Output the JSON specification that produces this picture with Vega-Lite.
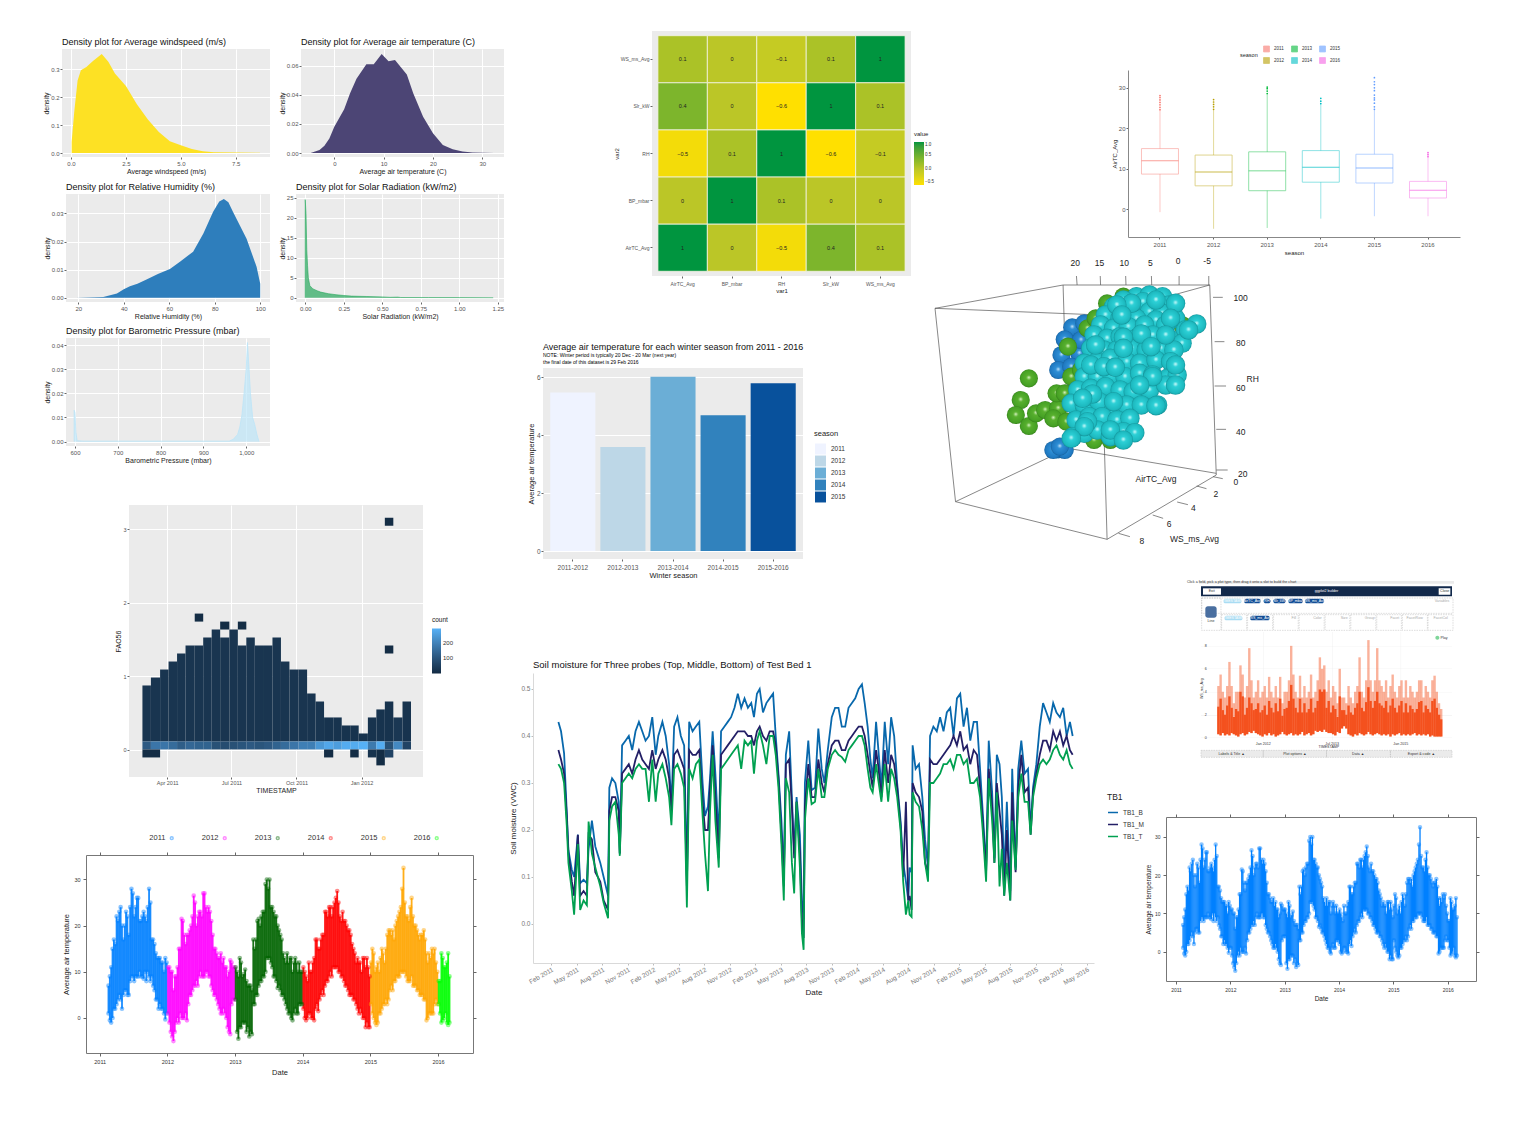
{"$schema":"https://vega.github.io/schema/vega-lite/v6.json","padding":{"left":42,"top":0,"right":0,"bottom":0},"background":"white","spacing":5,"resolve":{"scale":{"color":"independent"},"legend":{"color":"independent"}},"config":{"font":"Liberation Sans","view":{"stroke":null},"axis":{"gridColor":"#ffffff","tickColor":"#666666","tickSize":2,"domain":false,"labelFontSize":6,"labelColor":"#555555","titleFontSize":7,"titleColor":"#222222","titleFontWeight":"normal","labelPadding":1,"titlePadding":1,"labelOverlap":false},"title":{"fontSize":9,"fontWeight":"normal","anchor":"start","frame":"group","offset":2,"color":"#111111"},"legend":{"labelFontSize":6,"titleFontSize":6.5,"titleFontWeight":"normal","labelColor":"#333333","titleColor":"#222222"}},"datasets":{"temp":[
{"t":2011.13,"s":2011,"lo":1,"hi":7},{"t":2011.15,"s":2011,"lo":-0.5,"hi":9},{"t":2011.17,"s":2011,"lo":-1,"hi":11},{"t":2011.19,"s":2011,"lo":0,"hi":15},{"t":2011.21,"s":2011,"lo":2,"hi":17},{"t":2011.23,"s":2011,"lo":2,"hi":16},{"t":2011.25,"s":2011,"lo":3,"hi":22},{"t":2011.27,"s":2011,"lo":4,"hi":21},{"t":2011.29,"s":2011,"lo":5,"hi":23},{"t":2011.31,"s":2011,"lo":4,"hi":24},{"t":2011.33,"s":2011,"lo":2,"hi":20},{"t":2011.35,"s":2011,"lo":5,"hi":17},{"t":2011.37,"s":2011,"lo":6,"hi":20},{"t":2011.39,"s":2011,"lo":6,"hi":23},{"t":2011.41,"s":2011,"lo":5,"hi":22},{"t":2011.43,"s":2011,"lo":5,"hi":18},{"t":2011.45,"s":2011,"lo":8,"hi":24},{"t":2011.47,"s":2011,"lo":9,"hi":28},{"t":2011.49,"s":2011,"lo":9,"hi":27},{"t":2011.51,"s":2011,"lo":8,"hi":22},{"t":2011.53,"s":2011,"lo":9,"hi":24},{"t":2011.55,"s":2011,"lo":9,"hi":26},{"t":2011.57,"s":2011,"lo":9,"hi":26},{"t":2011.59,"s":2011,"lo":10,"hi":21},{"t":2011.61,"s":2011,"lo":9,"hi":21},{"t":2011.63,"s":2011,"lo":9,"hi":22},{"t":2011.65,"s":2011,"lo":8.5,"hi":23},{"t":2011.67,"s":2011,"lo":10,"hi":22},{"t":2011.69,"s":2011,"lo":8,"hi":21},{"t":2011.71,"s":2011,"lo":10,"hi":24},{"t":2011.73,"s":2011,"lo":9,"hi":28},{"t":2011.75,"s":2011,"lo":8,"hi":25},{"t":2011.77,"s":2011,"lo":9,"hi":17},{"t":2011.79,"s":2011,"lo":7,"hi":17},{"t":2011.81,"s":2011,"lo":6,"hi":16},{"t":2011.83,"s":2011,"lo":4,"hi":14},{"t":2011.85,"s":2011,"lo":4,"hi":13},{"t":2011.87,"s":2011,"lo":2,"hi":13},{"t":2011.89,"s":2011,"lo":3,"hi":13},{"t":2011.91,"s":2011,"lo":2,"hi":12},{"t":2011.93,"s":2011,"lo":2,"hi":12},{"t":2011.95,"s":2011,"lo":1,"hi":10},{"t":2011.97,"s":2011,"lo":-0.3,"hi":13},{"t":2011.99,"s":2011,"lo":1,"hi":12},
{"t":2012.01,"s":2012,"lo":1,"hi":11},{"t":2012.03,"s":2012,"lo":-1,"hi":11},{"t":2012.05,"s":2012,"lo":-3,"hi":10},{"t":2012.07,"s":2012,"lo":-4,"hi":10},{"t":2012.09,"s":2012,"lo":-5,"hi":6},{"t":2012.11,"s":2012,"lo":-3,"hi":9},{"t":2012.13,"s":2012,"lo":-1,"hi":9},{"t":2012.15,"s":2012,"lo":0,"hi":11},{"t":2012.17,"s":2012,"lo":-1,"hi":15},{"t":2012.19,"s":2012,"lo":1,"hi":15},{"t":2012.21,"s":2012,"lo":0,"hi":21.5},{"t":2012.23,"s":2012,"lo":0,"hi":21},{"t":2012.25,"s":2012,"lo":0,"hi":18},{"t":2012.27,"s":2012,"lo":1,"hi":16},{"t":2012.29,"s":2012,"lo":-0.5,"hi":18},{"t":2012.31,"s":2012,"lo":3,"hi":18},{"t":2012.33,"s":2012,"lo":5,"hi":19},{"t":2012.35,"s":2012,"lo":5,"hi":20},{"t":2012.37,"s":2012,"lo":6,"hi":22},{"t":2012.39,"s":2012,"lo":7,"hi":26.5},{"t":2012.41,"s":2012,"lo":7,"hi":25},{"t":2012.43,"s":2012,"lo":8,"hi":20},{"t":2012.45,"s":2012,"lo":7,"hi":22},{"t":2012.47,"s":2012,"lo":9,"hi":23},{"t":2012.49,"s":2012,"lo":10,"hi":23},{"t":2012.51,"s":2012,"lo":9,"hi":22},{"t":2012.53,"s":2012,"lo":9,"hi":27},{"t":2012.55,"s":2012,"lo":9,"hi":27},{"t":2012.57,"s":2012,"lo":10,"hi":24},{"t":2012.59,"s":2012,"lo":10,"hi":23},{"t":2012.61,"s":2012,"lo":9,"hi":24},{"t":2012.63,"s":2012,"lo":9,"hi":23},{"t":2012.65,"s":2012,"lo":7,"hi":21},{"t":2012.67,"s":2012,"lo":6,"hi":18},{"t":2012.69,"s":2012,"lo":5,"hi":15},{"t":2012.71,"s":2012,"lo":5,"hi":15},{"t":2012.73,"s":2012,"lo":4,"hi":14},{"t":2012.75,"s":2012,"lo":3,"hi":13},{"t":2012.77,"s":2012,"lo":2,"hi":13},{"t":2012.79,"s":2012,"lo":1,"hi":14},{"t":2012.81,"s":2012,"lo":1,"hi":12},{"t":2012.83,"s":2012,"lo":2,"hi":13},{"t":2012.85,"s":2012,"lo":1,"hi":11},{"t":2012.87,"s":2012,"lo":0,"hi":11},{"t":2012.89,"s":2012,"lo":-2,"hi":9},{"t":2012.91,"s":2012,"lo":-3,"hi":10},{"t":2012.93,"s":2012,"lo":-3.5,"hi":12.5},{"t":2012.95,"s":2012,"lo":3,"hi":12},{"t":2012.97,"s":2012,"lo":4,"hi":11},{"t":2012.99,"s":2012,"lo":4,"hi":11},
{"t":2013.01,"s":2013,"lo":4,"hi":11},{"t":2013.03,"s":2013,"lo":-3,"hi":10},{"t":2013.05,"s":2013,"lo":-4.5,"hi":9},{"t":2013.07,"s":2013,"lo":-2,"hi":13},{"t":2013.09,"s":2013,"lo":-2,"hi":12},{"t":2013.11,"s":2013,"lo":-1,"hi":9},{"t":2013.13,"s":2013,"lo":-1,"hi":9.5},{"t":2013.15,"s":2013,"lo":-1,"hi":10.5},{"t":2013.17,"s":2013,"lo":-3,"hi":8},{"t":2013.19,"s":2013,"lo":-2,"hi":7},{"t":2013.21,"s":2013,"lo":-4,"hi":7},{"t":2013.23,"s":2013,"lo":-3,"hi":7},{"t":2013.25,"s":2013,"lo":-3.5,"hi":6},{"t":2013.27,"s":2013,"lo":3,"hi":17},{"t":2013.29,"s":2013,"lo":3,"hi":15},{"t":2013.31,"s":2013,"lo":5,"hi":17},{"t":2013.33,"s":2013,"lo":5,"hi":21},{"t":2013.35,"s":2013,"lo":7,"hi":21.5},{"t":2013.37,"s":2013,"lo":8,"hi":20},{"t":2013.39,"s":2013,"lo":8,"hi":22},{"t":2013.41,"s":2013,"lo":9,"hi":23},{"t":2013.43,"s":2013,"lo":9,"hi":23},{"t":2013.45,"s":2013,"lo":10,"hi":29},{"t":2013.47,"s":2013,"lo":13,"hi":30},{"t":2013.49,"s":2013,"lo":13,"hi":28},{"t":2013.51,"s":2013,"lo":13,"hi":30},{"t":2013.53,"s":2013,"lo":12,"hi":24},{"t":2013.55,"s":2013,"lo":11,"hi":24},{"t":2013.57,"s":2013,"lo":9,"hi":23},{"t":2013.59,"s":2013,"lo":9,"hi":22},{"t":2013.61,"s":2013,"lo":8,"hi":22},{"t":2013.63,"s":2013,"lo":6.5,"hi":20},{"t":2013.65,"s":2013,"lo":7,"hi":19},{"t":2013.67,"s":2013,"lo":6,"hi":18},{"t":2013.69,"s":2013,"lo":5,"hi":17},{"t":2013.71,"s":2013,"lo":5,"hi":14},{"t":2013.73,"s":2013,"lo":4,"hi":13},{"t":2013.75,"s":2013,"lo":3,"hi":12},{"t":2013.77,"s":2013,"lo":2,"hi":14},{"t":2013.79,"s":2013,"lo":1,"hi":12},{"t":2013.81,"s":2013,"lo":1,"hi":13},{"t":2013.83,"s":2013,"lo":0,"hi":13},{"t":2013.85,"s":2013,"lo":-0.5,"hi":10},{"t":2013.87,"s":2013,"lo":1,"hi":12},{"t":2013.89,"s":2013,"lo":2,"hi":13},{"t":2013.91,"s":2013,"lo":1,"hi":12},{"t":2013.93,"s":2013,"lo":1,"hi":10},{"t":2013.95,"s":2013,"lo":3,"hi":12},{"t":2013.97,"s":2013,"lo":3,"hi":10},{"t":2013.99,"s":2013,"lo":3,"hi":10},
{"t":2014.01,"s":2014,"lo":2,"hi":11},{"t":2014.03,"s":2014,"lo":0,"hi":10},{"t":2014.05,"s":2014,"lo":-0.5,"hi":9},{"t":2014.07,"s":2014,"lo":0,"hi":8},{"t":2014.09,"s":2014,"lo":1,"hi":12},{"t":2014.11,"s":2014,"lo":1,"hi":10},{"t":2014.13,"s":2014,"lo":0,"hi":10},{"t":2014.15,"s":2014,"lo":0,"hi":12},{"t":2014.17,"s":2014,"lo":-0.5,"hi":13},{"t":2014.19,"s":2014,"lo":2,"hi":17},{"t":2014.21,"s":2014,"lo":3,"hi":17},{"t":2014.23,"s":2014,"lo":1.5,"hi":15},{"t":2014.25,"s":2014,"lo":4,"hi":15},{"t":2014.27,"s":2014,"lo":5,"hi":17},{"t":2014.29,"s":2014,"lo":6,"hi":18},{"t":2014.31,"s":2014,"lo":5,"hi":18},{"t":2014.33,"s":2014,"lo":7,"hi":23},{"t":2014.35,"s":2014,"lo":8,"hi":23},{"t":2014.37,"s":2014,"lo":8,"hi":22},{"t":2014.39,"s":2014,"lo":9,"hi":24},{"t":2014.41,"s":2014,"lo":10,"hi":24},{"t":2014.43,"s":2014,"lo":9,"hi":22},{"t":2014.45,"s":2014,"lo":11,"hi":24},{"t":2014.47,"s":2014,"lo":11,"hi":25},{"t":2014.49,"s":2014,"lo":11,"hi":26},{"t":2014.51,"s":2014,"lo":11,"hi":27.5},{"t":2014.53,"s":2014,"lo":10,"hi":25},{"t":2014.55,"s":2014,"lo":10,"hi":22},{"t":2014.57,"s":2014,"lo":9,"hi":21},{"t":2014.59,"s":2014,"lo":9,"hi":23},{"t":2014.61,"s":2014,"lo":8,"hi":21},{"t":2014.63,"s":2014,"lo":7,"hi":21},{"t":2014.65,"s":2014,"lo":7,"hi":20},{"t":2014.67,"s":2014,"lo":6,"hi":19},{"t":2014.69,"s":2014,"lo":5,"hi":19},{"t":2014.71,"s":2014,"lo":5,"hi":18},{"t":2014.73,"s":2014,"lo":5,"hi":16},{"t":2014.75,"s":2014,"lo":4,"hi":15},{"t":2014.77,"s":2014,"lo":4,"hi":14},{"t":2014.79,"s":2014,"lo":3,"hi":12},{"t":2014.81,"s":2014,"lo":2,"hi":13},{"t":2014.83,"s":2014,"lo":1,"hi":12},{"t":2014.85,"s":2014,"lo":2,"hi":12},{"t":2014.87,"s":2014,"lo":1,"hi":10},{"t":2014.89,"s":2014,"lo":0,"hi":13},{"t":2014.91,"s":2014,"lo":0,"hi":13},{"t":2014.93,"s":2014,"lo":-2,"hi":11},{"t":2014.95,"s":2014,"lo":-1,"hi":13},{"t":2014.97,"s":2014,"lo":-2,"hi":11},{"t":2014.99,"s":2014,"lo":-2,"hi":9},
{"t":2015.01,"s":2015,"lo":3,"hi":12},{"t":2015.03,"s":2015,"lo":1,"hi":15},{"t":2015.05,"s":2015,"lo":0,"hi":14},{"t":2015.07,"s":2015,"lo":-1,"hi":10},{"t":2015.09,"s":2015,"lo":-1.5,"hi":11},{"t":2015.11,"s":2015,"lo":-1,"hi":12},{"t":2015.13,"s":2015,"lo":1,"hi":10},{"t":2015.15,"s":2015,"lo":1,"hi":13},{"t":2015.17,"s":2015,"lo":2,"hi":15},{"t":2015.19,"s":2015,"lo":3,"hi":14},{"t":2015.21,"s":2015,"lo":3,"hi":12},{"t":2015.23,"s":2015,"lo":4,"hi":15},{"t":2015.25,"s":2015,"lo":3,"hi":18},{"t":2015.27,"s":2015,"lo":4,"hi":19},{"t":2015.29,"s":2015,"lo":6,"hi":19},{"t":2015.31,"s":2015,"lo":7,"hi":18},{"t":2015.33,"s":2015,"lo":6,"hi":19},{"t":2015.35,"s":2015,"lo":8,"hi":17},{"t":2015.37,"s":2015,"lo":8,"hi":20},{"t":2015.39,"s":2015,"lo":9,"hi":21},{"t":2015.41,"s":2015,"lo":9,"hi":22},{"t":2015.43,"s":2015,"lo":9,"hi":23},{"t":2015.45,"s":2015,"lo":10,"hi":24},{"t":2015.47,"s":2015,"lo":10,"hi":28},{"t":2015.49,"s":2015,"lo":10,"hi":32.5},{"t":2015.51,"s":2015,"lo":10,"hi":25},{"t":2015.53,"s":2015,"lo":9,"hi":22},{"t":2015.55,"s":2015,"lo":8,"hi":22},{"t":2015.57,"s":2015,"lo":8,"hi":21},{"t":2015.59,"s":2015,"lo":8,"hi":24},{"t":2015.61,"s":2015,"lo":9,"hi":26},{"t":2015.63,"s":2015,"lo":7,"hi":22},{"t":2015.65,"s":2015,"lo":7,"hi":20},{"t":2015.67,"s":2015,"lo":7,"hi":20},{"t":2015.69,"s":2015,"lo":6,"hi":19},{"t":2015.71,"s":2015,"lo":6,"hi":18},{"t":2015.73,"s":2015,"lo":5,"hi":17},{"t":2015.75,"s":2015,"lo":5,"hi":18},{"t":2015.77,"s":2015,"lo":5,"hi":18},{"t":2015.79,"s":2015,"lo":4,"hi":19},{"t":2015.81,"s":2015,"lo":4,"hi":17},{"t":2015.83,"s":2015,"lo":-0.5,"hi":14},{"t":2015.85,"s":2015,"lo":0,"hi":12},{"t":2015.87,"s":2015,"lo":1,"hi":14},{"t":2015.89,"s":2015,"lo":1,"hi":13},{"t":2015.91,"s":2015,"lo":1,"hi":15},{"t":2015.93,"s":2015,"lo":1,"hi":14},{"t":2015.95,"s":2015,"lo":3,"hi":15},{"t":2015.97,"s":2015,"lo":4,"hi":12},{"t":2015.99,"s":2015,"lo":3,"hi":10},
{"t":2016.01,"s":2016,"lo":3,"hi":8},{"t":2016.03,"s":2016,"lo":1,"hi":8},{"t":2016.05,"s":2016,"lo":-1,"hi":14},{"t":2016.07,"s":2016,"lo":-0.5,"hi":13},{"t":2016.09,"s":2016,"lo":0,"hi":11},{"t":2016.11,"s":2016,"lo":1,"hi":11},{"t":2016.13,"s":2016,"lo":-1,"hi":12},{"t":2016.15,"s":2016,"lo":-1.5,"hi":14},{"t":2016.17,"s":2016,"lo":-1,"hi":9}
]},"hconcat":[
{"spacing":0,"resolve":{"scale":{"color":"independent"},"legend":{"color":"independent"}},"vconcat":[
{"width":1,"height":38,"data":{"values":[]},"mark":"point","encoding":{}},
{"bounds":"flush","spacing":0,"hconcat":[
{"width":208,"height":108,"title":"Density plot for Average windspeed (m/s)","view":{"fill":"#EBEBEB"},"data":{"values":[{"x":0.03,"y":0},{"x":0.03,"y":0.04},{"x":0.15,"y":0.15},{"x":0.3,"y":0.26},{"x":0.45,"y":0.297},{"x":0.7,"y":0.308},{"x":1,"y":0.33},{"x":1.4,"y":0.355},{"x":1.7,"y":0.327},{"x":2,"y":0.285},{"x":2.5,"y":0.24},{"x":3,"y":0.175},{"x":3.5,"y":0.12},{"x":4,"y":0.075},{"x":4.5,"y":0.042},{"x":5,"y":0.028},{"x":5.5,"y":0.014},{"x":6,"y":0.006},{"x":6.5,"y":0.003},{"x":7.5,"y":0.002},{"x":8.6,"y":0.0005}]},"mark":{"type":"area","color":"#FDE124"},"encoding":{"x":{"field":"x","type":"quantitative","title":"Average windspeed (m/s)","scale":{"domain":[-0.41,9.06],"nice":false,"zero":false},"axis":{"values":[0,2.5,5,7.5],"format":".1f"}},"y":{"field":"y","type":"quantitative","title":"density","scale":{"domain":[-0.0143,0.3727],"nice":false,"zero":false},"axis":{"values":[0,0.1,0.2,0.3],"format":".1f"}}}},
{"width":31,"height":1,"data":{"values":[]},"mark":"point","encoding":{}},
{"width":203,"height":108,"title":"Density plot for Average air temperature (C)","view":{"fill":"#EBEBEB"},"data":{"values":[{"x":-4.8,"y":0},{"x":-3,"y":0.002},{"x":-2,"y":0.005},{"x":-1,"y":0.01},{"x":0,"y":0.018},{"x":1,"y":0.024},{"x":2,"y":0.03},{"x":3.2,"y":0.041},{"x":4.5,"y":0.051},{"x":6.5,"y":0.061},{"x":8,"y":0.061},{"x":9.6,"y":0.068},{"x":11,"y":0.063},{"x":12.3,"y":0.064},{"x":14.7,"y":0.054},{"x":16,"y":0.041},{"x":18,"y":0.025},{"x":20,"y":0.0135},{"x":22,"y":0.0055},{"x":24,"y":0.0025},{"x":26,"y":0.001},{"x":28,"y":0.0004},{"x":32.5,"y":0}]},"mark":{"type":"area","color":"#4C4575"},"encoding":{"x":{"field":"x","type":"quantitative","title":"Average air temperature (C)","scale":{"domain":[-6.75,34.4],"nice":false,"zero":false},"axis":{"values":[0,10,20,30]}},"y":{"field":"y","type":"quantitative","title":"density","scale":{"domain":[-0.00275,0.0715],"nice":false,"zero":false},"axis":{"values":[0,0.02,0.04,0.06],"format":".2f"}}}}]},
{"width":1,"height":9,"data":{"values":[]},"mark":"point","encoding":{}},
{"bounds":"flush","spacing":0,"hconcat":[
{"width":4,"height":1,"data":{"values":[]},"mark":"point","encoding":{}},
{"width":204,"height":108,"title":"Density plot for Relative Humidity (%)","view":{"fill":"#EBEBEB"},"data":{"values":[{"x":19,"y":0},{"x":31,"y":0.0003},{"x":37,"y":0.0015},{"x":40,"y":0.003},{"x":42.7,"y":0.0041},{"x":46,"y":0.005},{"x":50,"y":0.0065},{"x":55,"y":0.0085},{"x":60.3,"y":0.0102},{"x":65,"y":0.013},{"x":70.5,"y":0.0164},{"x":75,"y":0.0229},{"x":79.3,"y":0.0306},{"x":82,"y":0.0342},{"x":84,"y":0.0351},{"x":86,"y":0.034},{"x":88,"y":0.0306},{"x":94,"y":0.021},{"x":98.4,"y":0.011},{"x":100,"y":0.005},{"x":100,"y":0}]},"mark":{"type":"area","color":"#2E7EBC"},"encoding":{"x":{"field":"x","type":"quantitative","title":"Relative Humidity (%)","scale":{"domain":[14.6,104.3],"nice":false,"zero":false},"axis":{"values":[20,40,60,80,100]}},"y":{"field":"y","type":"quantitative","title":"density","scale":{"domain":[-0.0015,0.0369],"nice":false,"zero":false},"axis":{"values":[0,0.01,0.02,0.03],"format":".2f"}}}},
{"width":26,"height":1,"data":{"values":[]},"mark":"point","encoding":{}},
{"width":208,"height":108,"title":"Density plot for Solar Radiation (kW/m2)","view":{"fill":"#EBEBEB"},"data":{"values":[{"x":0,"y":0},{"x":0,"y":24.5},{"x":0.005,"y":21},{"x":0.01,"y":12},{"x":0.015,"y":8},{"x":0.02,"y":5},{"x":0.03,"y":3},{"x":0.05,"y":2.2},{"x":0.08,"y":1.7},{"x":0.1,"y":1.4},{"x":0.15,"y":1},{"x":0.2,"y":0.75},{"x":0.25,"y":0.55},{"x":0.3,"y":0.4},{"x":0.4,"y":0.3},{"x":0.5,"y":0.2},{"x":0.55,"y":0.1},{"x":0.6,"y":0.15},{"x":0.62,"y":0.05},{"x":0.8,"y":0.04},{"x":1,"y":0.03},{"x":1.22,"y":0}]},"mark":{"type":"area","color":"#27A85C","line":{"color":"#27A85C","strokeWidth":0.6}},"encoding":{"x":{"field":"x","type":"quantitative","title":"Solar Radiation (kW/m2)","scale":{"domain":[-0.06,1.29],"nice":false,"zero":false},"axis":{"values":[0,0.25,0.5,0.75,1,1.25],"format":".2f"}},"y":{"field":"y","type":"quantitative","title":"density","scale":{"domain":[-1.07,25.9],"nice":false,"zero":false},"axis":{"values":[0,5,10,15,20,25]}}}}]},
{"width":1,"height":8,"data":{"values":[]},"mark":"point","encoding":{}},
{"bounds":"flush","spacing":0,"hconcat":[
{"width":4,"height":1,"data":{"values":[]},"mark":"point","encoding":{}},
{"width":204,"height":108,"title":"Density plot for Barometric Pressure (mbar)","view":{"fill":"#EBEBEB"},"data":{"values":[{"x":598,"y":0},{"x":598,"y":0.013},{"x":600,"y":0.012},{"x":602,"y":0.004},{"x":605,"y":0.0004},{"x":620,"y":0.0002},{"x":960,"y":0.0002},{"x":970,"y":0.001},{"x":980,"y":0.003},{"x":985,"y":0.006},{"x":990,"y":0.011},{"x":995,"y":0.02},{"x":1000,"y":0.03},{"x":1003,"y":0.041},{"x":1006,"y":0.032},{"x":1010,"y":0.02},{"x":1015,"y":0.01},{"x":1020,"y":0.007},{"x":1025,"y":0.003},{"x":1030,"y":0}]},"mark":{"type":"area","color":"#BDE5F8","line":{"color":"#BDE5F8","strokeWidth":0.8}},"encoding":{"x":{"field":"x","type":"quantitative","title":"Barometric Pressure (mbar)","scale":{"domain":[579,1055.6],"nice":false,"zero":false},"axis":{"values":[600,700,800,900,1000]}},"y":{"field":"y","type":"quantitative","title":"density","scale":{"domain":[-0.0018,0.0429],"nice":false,"zero":false},"axis":{"values":[0,0.01,0.02,0.03,0.04],"format":".2f"}}}}]},
{"width":1,"height":42,"data":{"values":[]},"mark":"point","encoding":{}},
{"bounds":"flush","spacing":0,"resolve":{"scale":{"color":"independent"},"legend":{"color":"independent"}},"hconcat":[
{"width":67,"height":1,"data":{"values":[]},"mark":"point","encoding":{}},
{"width":294,"height":272,"view":{"fill":"#EBEBEB"},"data":{"values":[
{"d":"2011-02-25","d2":"2011-03-09","lo":0.114,"hi":0.875,"n":25},{"d":"2011-03-09","d2":"2011-03-22","lo":0.114,"hi":0.983,"n":25},{"d":"2011-03-22","d2":"2011-04-03","lo":0.114,"hi":1.092,"n":25},{"d":"2011-04-03","d2":"2011-04-15","lo":0.114,"hi":1.201,"n":25},{"d":"2011-04-15","d2":"2011-04-27","lo":0.114,"hi":1.309,"n":25},{"d":"2011-04-27","d2":"2011-05-10","lo":0.114,"hi":1.418,"n":25},{"d":"2011-05-10","d2":"2011-05-22","lo":0.114,"hi":1.418,"n":25},{"d":"2011-05-22","d2":"2011-06-03","lo":0.114,"hi":1.527,"n":25},{"d":"2011-06-03","d2":"2011-06-15","lo":0.114,"hi":1.636,"n":25},{"d":"2011-06-15","d2":"2011-06-28","lo":0.114,"hi":1.527,"n":25},{"d":"2011-06-28","d2":"2011-07-10","lo":0.114,"hi":1.636,"n":25},{"d":"2011-07-10","d2":"2011-07-22","lo":0.114,"hi":1.418,"n":25},{"d":"2011-07-22","d2":"2011-08-03","lo":0.114,"hi":1.527,"n":25},{"d":"2011-08-03","d2":"2011-08-16","lo":0.114,"hi":1.418,"n":25},{"d":"2011-08-16","d2":"2011-08-28","lo":0.114,"hi":1.418,"n":25},{"d":"2011-08-28","d2":"2011-09-09","lo":0.114,"hi":1.527,"n":25},{"d":"2011-09-09","d2":"2011-09-21","lo":0.114,"hi":1.201,"n":25},{"d":"2011-09-21","d2":"2011-10-04","lo":0.114,"hi":1.092,"n":25},{"d":"2011-10-04","d2":"2011-10-16","lo":0.114,"hi":1.092,"n":25},{"d":"2011-10-16","d2":"2011-10-28","lo":0.114,"hi":0.766,"n":25},{"d":"2011-10-28","d2":"2011-11-09","lo":0.114,"hi":0.657,"n":25},{"d":"2011-11-09","d2":"2011-11-22","lo":0.114,"hi":0.44,"n":20},{"d":"2011-11-22","d2":"2011-12-04","lo":0.114,"hi":0.44,"n":20},{"d":"2011-12-04","d2":"2011-12-16","lo":0.114,"hi":0.331,"n":20},{"d":"2011-12-16","d2":"2011-12-28","lo":0.114,"hi":0.331,"n":20},{"d":"2011-12-28","d2":"2012-01-10","lo":0.114,"hi":0.222,"n":20},{"d":"2012-01-10","d2":"2012-01-22","lo":0.114,"hi":0.44,"n":20},{"d":"2012-01-22","d2":"2012-02-03","lo":0.114,"hi":0.549,"n":20},{"d":"2012-02-03","d2":"2012-02-15","lo":0.114,"hi":0.657,"n":20},{"d":"2012-02-15","d2":"2012-02-28","lo":0.114,"hi":0.44,"n":30},{"d":"2012-02-28","d2":"2012-03-11","lo":0.114,"hi":0.657,"n":20},
{"d":"2011-02-25","d2":"2011-03-09","lo":0.005,"hi":0.114,"n":110},{"d":"2011-03-09","d2":"2011-03-22","lo":0.005,"hi":0.114,"n":170},{"d":"2011-03-22","d2":"2011-04-03","lo":0.005,"hi":0.114,"n":170},{"d":"2011-04-03","d2":"2011-04-15","lo":0.005,"hi":0.114,"n":150},{"d":"2011-04-15","d2":"2011-04-27","lo":0.005,"hi":0.114,"n":120},{"d":"2011-04-27","d2":"2011-05-10","lo":0.005,"hi":0.114,"n":140},{"d":"2011-05-10","d2":"2011-05-22","lo":0.005,"hi":0.114,"n":130},{"d":"2011-05-22","d2":"2011-06-03","lo":0.005,"hi":0.114,"n":130},{"d":"2011-06-03","d2":"2011-06-15","lo":0.005,"hi":0.114,"n":90},{"d":"2011-06-15","d2":"2011-06-28","lo":0.005,"hi":0.114,"n":80},{"d":"2011-06-28","d2":"2011-07-10","lo":0.005,"hi":0.114,"n":90},{"d":"2011-07-10","d2":"2011-07-22","lo":0.005,"hi":0.114,"n":100},{"d":"2011-07-22","d2":"2011-08-03","lo":0.005,"hi":0.114,"n":110},{"d":"2011-08-03","d2":"2011-08-16","lo":0.005,"hi":0.114,"n":100},{"d":"2011-08-16","d2":"2011-08-28","lo":0.005,"hi":0.114,"n":110},{"d":"2011-08-28","d2":"2011-09-09","lo":0.005,"hi":0.114,"n":130},{"d":"2011-09-09","d2":"2011-09-21","lo":0.005,"hi":0.114,"n":150},{"d":"2011-09-21","d2":"2011-10-04","lo":0.005,"hi":0.114,"n":170},{"d":"2011-10-04","d2":"2011-10-16","lo":0.005,"hi":0.114,"n":190},{"d":"2011-10-16","d2":"2011-10-28","lo":0.005,"hi":0.114,"n":190},{"d":"2011-10-28","d2":"2011-11-09","lo":0.005,"hi":0.114,"n":240},{"d":"2011-11-09","d2":"2011-11-22","lo":0.005,"hi":0.114,"n":270},{"d":"2011-11-22","d2":"2011-12-04","lo":0.005,"hi":0.114,"n":250},{"d":"2011-12-04","d2":"2011-12-16","lo":0.005,"hi":0.114,"n":280},{"d":"2011-12-16","d2":"2011-12-28","lo":0.005,"hi":0.114,"n":280},{"d":"2011-12-28","d2":"2012-01-10","lo":0.005,"hi":0.114,"n":290},{"d":"2012-01-10","d2":"2012-01-22","lo":0.005,"hi":0.114,"n":180},{"d":"2012-01-22","d2":"2012-02-03","lo":0.005,"hi":0.114,"n":280},{"d":"2012-02-03","d2":"2012-02-15","lo":0.005,"hi":0.114,"n":90},{"d":"2012-02-15","d2":"2012-02-28","lo":0.005,"hi":0.114,"n":210},{"d":"2012-02-28","d2":"2012-03-11","lo":0.005,"hi":0.114,"n":60},
{"d":"2011-05-10","d2":"2011-05-22","lo":1.744,"hi":1.853,"n":5},{"d":"2011-06-15","d2":"2011-06-28","lo":1.636,"hi":1.744,"n":5},{"d":"2011-07-10","d2":"2011-07-22","lo":1.636,"hi":1.744,"n":5},{"d":"2012-02-03","d2":"2012-02-15","lo":3.049,"hi":3.158,"n":5},{"d":"2012-02-03","d2":"2012-02-15","lo":1.309,"hi":1.418,"n":5},{"d":"2011-02-25","d2":"2011-03-22","lo":-0.104,"hi":0.005,"n":5},{"d":"2011-11-09","d2":"2011-11-22","lo":-0.104,"hi":0.005,"n":5},{"d":"2011-12-16","d2":"2011-12-28","lo":-0.104,"hi":0.005,"n":5},{"d":"2012-01-10","d2":"2012-01-22","lo":-0.104,"hi":0.005,"n":20},{"d":"2012-01-22","d2":"2012-02-03","lo":-0.212,"hi":0.005,"n":5},{"d":"2012-02-03","d2":"2012-02-15","lo":-0.104,"hi":0.005,"n":60}
]},"mark":"rect","encoding":{"x":{"field":"d","type":"temporal","title":"TIMESTAMP","scale":{"type":"utc","domain":["2011-02-06","2012-03-28"],"nice":false},"axis":{"values":[{"year":2011,"month":4,"date":1,"utc":true},{"year":2011,"month":7,"date":1,"utc":true},{"year":2011,"month":10,"date":1,"utc":true},{"year":2012,"month":1,"date":1,"utc":true}],"format":"%b %Y","labelFontSize":5.5}},"x2":{"field":"d2"},"y":{"field":"lo","type":"quantitative","title":"FAO56","scale":{"domain":[-0.37,3.33],"nice":false,"zero":false},"axis":{"values":[0,1,2,3],"labelFontSize":5.5}},"y2":{"field":"hi"},"color":{"field":"n","type":"quantitative","scale":{"domain":[1,290],"range":["#132B43","#56B1F7"]},"legend":{"title":"count","orient":"none","legendX":303,"legendY":112,"gradientLength":45,"gradientThickness":9,"values":[100,200]}}}}]},
{"width":1,"height":39,"data":{"values":[]},"mark":"point","encoding":{}},
{"bounds":"flush","spacing":0,"resolve":{"scale":{"color":"independent"},"legend":{"color":"independent"}},"hconcat":[
{"width":24,"height":1,"data":{"values":[]},"mark":"point","encoding":{}},
{"width":387,"height":198,"view":{"stroke":"#777777","strokeWidth":1},"data":{"name":"temp"},"resolve":{"axis":{"x":"independent","y":"independent"}},"layer":[
{"mark":{"type":"rule","strokeWidth":1.8,"opacity":0.9},"encoding":{"x":{"field":"t","type":"quantitative","title":"Date","scale":{"domain":[2010.798,2016.517],"nice":false,"zero":false},"axis":{"grid":false,"values":[2011,2012,2013,2014,2015,2016],"format":"d","tickSize":3,"labelFontSize":5.5,"labelColor":"#333333","titleFontSize":7.5,"labelPadding":3,"titlePadding":4}},"y":{"field":"lo","type":"quantitative","title":"Average air temperature","scale":{"domain":[-7.58,35.3],"nice":false,"zero":false},"axis":{"grid":false,"values":[0,10,20,30],"tickSize":3,"labelFontSize":5.5,"labelColor":"#333333","titleFontSize":7.5,"labelPadding":3,"titlePadding":3}},"y2":{"field":"hi"},"color":{"field":"s","type":"nominal","scale":{"domain":[2011,2012,2013,2014,2015,2016],"range":["#0080FF","#FF00FF","#006400","#FF0000","#FFA500","#00FF00"]},"legend":{"title":null,"orient":"none","legendX":82,"legendY":-21,"direction":"horizontal","columns":6,"symbolType":"circle","symbolSize":8,"symbolOpacity":0.5,"labelAlign":"right","labelOffset":-10,"columnPadding":24,"labelFontSize":7.5}}}},
{"mark":{"type":"point","filled":false,"size":7,"opacity":0.45},"encoding":{"x":{"field":"t","type":"quantitative","scale":{"domain":[2010.798,2016.517],"nice":false,"zero":false},"axis":{"orient":"top","grid":false,"labels":false,"title":null,"values":[2011,2012,2013,2014,2015,2016],"tickSize":3}},"y":{"field":"hi","type":"quantitative","scale":{"domain":[-7.58,35.3],"nice":false,"zero":false},"axis":{"orient":"right","grid":false,"labels":false,"title":null,"values":[0,10,20,30],"tickSize":3}},"color":{"field":"s","type":"nominal"}}},
{"mark":{"type":"point","filled":false,"size":7,"opacity":0.45},"encoding":{"x":{"field":"t","type":"quantitative","axis":null,"scale":{"domain":[2010.798,2016.517],"nice":false,"zero":false}},"y":{"field":"lo","type":"quantitative","axis":null,"scale":{"domain":[-7.58,35.3],"nice":false,"zero":false}},"color":{"field":"s","type":"nominal"}}}
]}]}
]},
{"spacing":0,"resolve":{"scale":{"color":"independent"},"legend":{"color":"independent"}},"vconcat":[
{"spacing":0,"resolve":{"scale":{"color":"independent"},"legend":{"color":"independent"}},"hconcat":[
{"spacing":0,"resolve":{"scale":{"color":"independent"},"legend":{"color":"independent"}},"vconcat":[
{"width":1,"height":31,"data":{"values":[]},"mark":"point","encoding":{}},
{"bounds":"flush","spacing":0,"resolve":{"scale":{"color":"independent"},"legend":{"color":"independent"}},"hconcat":[
{"width":119,"height":1,"data":{"values":[]},"mark":"point","encoding":{}},
{"width":259,"height":245,"view":{"fill":"#EBEBEB"},"data":{"values":[{"var1":"AirTC_Avg","var2":"WS_ms_Avg","value":0.1},{"var1":"BP_mbar","var2":"WS_ms_Avg","value":0},{"var1":"RH","var2":"WS_ms_Avg","value":-0.1},{"var1":"Slr_kW","var2":"WS_ms_Avg","value":0.1},{"var1":"WS_ms_Avg","var2":"WS_ms_Avg","value":1},{"var1":"AirTC_Avg","var2":"Slr_kW","value":0.4},{"var1":"BP_mbar","var2":"Slr_kW","value":0},{"var1":"RH","var2":"Slr_kW","value":-0.6},{"var1":"Slr_kW","var2":"Slr_kW","value":1},{"var1":"WS_ms_Avg","var2":"Slr_kW","value":0.1},{"var1":"AirTC_Avg","var2":"RH","value":-0.5},{"var1":"BP_mbar","var2":"RH","value":0.1},{"var1":"RH","var2":"RH","value":1},{"var1":"Slr_kW","var2":"RH","value":-0.6},{"var1":"WS_ms_Avg","var2":"RH","value":-0.1},{"var1":"AirTC_Avg","var2":"BP_mbar","value":0},{"var1":"BP_mbar","var2":"BP_mbar","value":1},{"var1":"RH","var2":"BP_mbar","value":0.1},{"var1":"Slr_kW","var2":"BP_mbar","value":0},{"var1":"WS_ms_Avg","var2":"BP_mbar","value":0},{"var1":"AirTC_Avg","var2":"AirTC_Avg","value":1},{"var1":"BP_mbar","var2":"AirTC_Avg","value":0},{"var1":"RH","var2":"AirTC_Avg","value":-0.5},{"var1":"Slr_kW","var2":"AirTC_Avg","value":0.4},{"var1":"WS_ms_Avg","var2":"AirTC_Avg","value":0.1}]},"encoding":{"x":{"field":"var1","type":"nominal","title":"var1","sort":["AirTC_Avg","BP_mbar","RH","Slr_kW","WS_ms_Avg"],"scale":{"paddingInner":0,"paddingOuter":0.12},"axis":{"labelAngle":0,"labelFontSize":5,"titleFontSize":6,"labelPadding":3}},"y":{"field":"var2","type":"nominal","title":"var2","sort":["WS_ms_Avg","Slr_kW","RH","BP_mbar","AirTC_Avg"],"scale":{"paddingInner":0,"paddingOuter":0.1},"axis":{"labelFontSize":5,"titleFontSize":6}}},"layer":[{"mark":{"type":"rect","stroke":"#F4F4E4","strokeWidth":0.8},"encoding":{"color":{"field":"value","type":"quantitative","scale":{"domain":[-0.6,0,1],"range":["#FFE000","#BBC627","#00953F"]},"legend":{"title":"value","orient":"none","legendX":262,"legendY":100,"gradientLength":43,"gradientThickness":10,"labelOffset":1,"values":[-0.5,0,0.5,1],"format":".1f","labelFontSize":4.5,"titleFontSize":6}}}},{"mark":{"type":"text","fontSize":5.5,"color":"#222222"},"encoding":{"text":{"field":"value","type":"quantitative","format":".1~f"}}}]}]},
{"width":1,"height":50,"data":{"values":[]},"mark":"point","encoding":{}},
{"bounds":"flush","spacing":0,"resolve":{"scale":{"color":"independent"},"legend":{"color":"independent"}},"hconcat":[
{"width":10,"height":1,"data":{"values":[]},"mark":"point","encoding":{}},
{"width":260,"height":191,"view":{"fill":"#EBEBEB"},"title":{"text":"Average air temperature for each winter season from 2011 - 2016","subtitle":["NOTE: Winter period is typically 20 Dec - 20 Mar (next year)","      the final date of this dataset is 29 Feb 2016"],"subtitleFontSize":5,"subtitlePadding":1,"fontSize":9,"offset":3},"data":{"values":[{"winter":"2011-2012","season":"2011","temp":5.47},{"winter":"2012-2013","season":"2012","temp":3.59},{"winter":"2013-2014","season":"2013","temp":6.02},{"winter":"2014-2015","season":"2014","temp":4.69},{"winter":"2015-2016","season":"2015","temp":5.79}]},"mark":"bar","encoding":{"x":{"field":"winter","type":"nominal","title":"Winter season","scale":{"paddingInner":0.1,"paddingOuter":0.145},"axis":{"labelAngle":0,"labelFontSize":6.5,"titleFontSize":7.5,"labelPadding":3}},"y":{"field":"temp","type":"quantitative","title":"Average air temperature","scale":{"domain":[-0.276,6.32],"nice":false,"zero":false},"axis":{"values":[0,2,4,6],"labelFontSize":6.5,"titleFontSize":7.5}},"color":{"field":"season","type":"nominal","scale":{"range":["#EFF3FF","#BDD7E7","#6BAED6","#3182BD","#08519C"]},"legend":{"title":"season","orient":"none","legendX":271,"legendY":62,"symbolType":"square","symbolSize":120,"symbolOpacity":1,"rowPadding":0,"labelFontSize":6.5,"titleFontSize":7.5}}}}]}
]},
{"spacing":0,"resolve":{"scale":{"color":"independent"},"legend":{"color":"independent"}},"vconcat":[
{"width":1,"height":45,"data":{"values":[]},"mark":"point","encoding":{}},
{"bounds":"flush","spacing":0,"resolve":{"scale":{"color":"independent"},"legend":{"color":"independent"}},"hconcat":[
{"width":193,"height":1,"data":{"values":[]},"mark":"point","encoding":{}},
{"width":332,"height":167,"layer":[
{"data":{"values":[{"season":"2011","lo":-0.7,"q1":8.7,"med":12,"q3":15,"up":24.5},{"season":"2012","lo":-4.8,"q1":5.8,"med":9.2,"q3":13.4,"up":24.5},{"season":"2013","lo":-4.6,"q1":4.6,"med":9.5,"q3":14.2,"up":28.5},{"season":"2014","lo":-2.3,"q1":6.7,"med":10.4,"q3":14.5,"up":26},{"season":"2015","lo":-1.7,"q1":6.5,"med":10.2,"q3":13.6,"up":24.5},{"season":"2016","lo":-1.7,"q1":2.8,"med":4.7,"q3":6.9,"up":12.8}]},"encoding":{"x":{"field":"season","type":"nominal","title":"season","scale":{"paddingInner":0,"paddingOuter":0.097},"axis":{"labelAngle":0,"domain":true,"domainColor":"#888888","labelFontSize":6,"titleFontSize":6,"labelPadding":2,"titlePadding":2}},"color":{"field":"season","type":"nominal","scale":{"range":["#F8766D","#B79F00","#00BA38","#00BFC4","#619CFF","#F564E3"]},"legend":{"title":"season","titleOrient":"left","orient":"none","legendX":112,"legendY":-25,"direction":"vertical","columns":3,"symbolType":"square","symbolSize":35,"symbolOpacity":0.6,"symbolStrokeWidth":0.8,"labelFontSize":4.5,"titleFontSize":5.5,"rowPadding":1,"columnPadding":4,"encode":{"symbols":{"update":{"fill":{"value":"transparent"}}}}}}},"layer":[
{"mark":{"type":"rule","opacity":0.5,"strokeWidth":0.8},"encoding":{"y":{"field":"lo","type":"quantitative","title":"AirTC_Avg","scale":{"domain":[-6.83,34.4],"nice":false,"zero":false},"axis":{"grid":false,"domain":true,"domainColor":"#888888","values":[0,10,20,30],"labelFontSize":6,"titleFontSize":6}},"y2":{"field":"q1"}}},
{"mark":{"type":"rule","opacity":0.5,"strokeWidth":0.8},"encoding":{"y":{"field":"q3","type":"quantitative"},"y2":{"field":"up"}}},
{"mark":{"type":"bar","filled":false,"size":37,"opacity":0.55,"strokeWidth":0.8},"encoding":{"y":{"field":"q1","type":"quantitative"},"y2":{"field":"q3"}}},
{"mark":{"type":"tick","size":37,"thickness":0.9,"opacity":0.7},"encoding":{"y":{"field":"med","type":"quantitative"}}}]},
{"data":{"values":[{"season":"2011","v":24.6},{"season":"2011","v":25.2},{"season":"2011","v":25.8},{"season":"2011","v":26.4},{"season":"2011","v":27},{"season":"2011","v":27.6},{"season":"2011","v":28.1},{"season":"2012","v":24.7},{"season":"2012","v":25.3},{"season":"2012","v":25.9},{"season":"2012","v":26.5},{"season":"2012","v":27.1},{"season":"2013","v":28.6},{"season":"2013","v":29.2},{"season":"2013","v":29.8},{"season":"2013","v":30.2},{"season":"2014","v":26.1},{"season":"2014","v":26.7},{"season":"2014","v":27.4},{"season":"2015","v":24.7},{"season":"2015","v":25.3},{"season":"2015","v":26.2},{"season":"2015","v":27},{"season":"2015","v":27.5},{"season":"2015","v":28.2},{"season":"2015","v":29.3},{"season":"2015","v":30},{"season":"2015","v":30.8},{"season":"2015","v":31.5},{"season":"2015","v":32.5},{"season":"2016","v":13},{"season":"2016","v":13.5},{"season":"2016","v":14}]},"mark":{"type":"circle","size":3,"opacity":1},"encoding":{"x":{"field":"season","type":"nominal"},"y":{"field":"v","type":"quantitative"},"color":{"field":"season","type":"nominal"}}}
]}]},
{"width":1,"height":1,"data":{"values":[]},"mark":"point","encoding":{}},
{"width":322,"height":294,"layer":[
{"data":{"values":[{"u":22,"v":175,"u2":415,"v2":105},{"u":415,"v":105,"u2":865,"v2":105},{"u":22,"v":175,"u2":530,"v2":195},{"u":530,"v":195,"u2":865,"v2":105},{"u":22,"v":175,"u2":85,"v2":755},{"u":85,"v":755,"u2":550,"v2":868},{"u":550,"v":868,"u2":885,"v2":675},{"u":415,"v":105,"u2":430,"v2":595},{"u":430,"v":595,"u2":885,"v2":670},{"u":85,"v":755,"u2":430,"v2":595},{"u":865,"v":105,"u2":885,"v2":675},{"u":530,"v":195,"u2":550,"v2":868},{"u":458,"v":105,"u2":456,"v2":78},{"u":530,"v":105,"u2":529,"v2":78},{"u":608,"v":105,"u2":607,"v2":78},{"u":687,"v":105,"u2":686,"v2":78},{"u":771,"v":105,"u2":771,"v2":78},{"u":862,"v":105,"u2":862,"v2":78},{"u":875,"v":142,"u2":905,"v2":142},{"u":880,"v":275,"u2":910,"v2":275},{"u":880,"v":408,"u2":915,"v2":408},{"u":885,"v":538,"u2":915,"v2":538},{"u":885,"v":660,"u2":920,"v2":660},{"u":875,"v":680,"u2":905,"v2":686},{"u":825,"v":708,"u2":855,"v2":716},{"u":765,"v":756,"u2":798,"v2":764},{"u":690,"v":795,"u2":722,"v2":805},{"u":585,"v":850,"u2":620,"v2":860}]},"mark":{"type":"rule","color":"#555555","strokeWidth":0.7},"encoding":{"x":{"field":"u","type":"quantitative","axis":null,"scale":{"domain":[22,1010],"nice":false,"zero":false}},"y":{"field":"v","type":"quantitative","axis":null,"scale":{"domain":[900,18],"nice":false,"zero":false}},"x2":{"field":"u2"},"y2":{"field":"v2"}}},
{"data":{"values":[{"u":452,"v":38,"label":"20"},{"u":527,"v":38,"label":"15"},{"u":603,"v":38,"label":"10"},{"u":683,"v":38,"label":"5"},{"u":768,"v":33,"label":"0"},{"u":857,"v":33,"label":"-5"},{"u":960,"v":145,"label":"100"},{"u":960,"v":280,"label":"80"},{"u":960,"v":413,"label":"60"},{"u":960,"v":545,"label":"40"},{"u":966,"v":672,"label":"20"},{"u":945,"v":695,"label":"0"},{"u":884,"v":733,"label":"2"},{"u":815,"v":775,"label":"4"},{"u":740,"v":822,"label":"6"},{"u":657,"v":872,"label":"8"},{"u":997,"v":388,"label":"RH"},{"u":700,"v":688,"label":"AirTC_Avg"},{"u":818,"v":868,"label":"WS_ms_Avg"}]},"mark":{"type":"text","fontSize":8.5,"color":"#222222"},"encoding":{"x":{"field":"u","type":"quantitative"},"y":{"field":"v","type":"quantitative"},"text":{"field":"label"}}},
{"data":{"values":[{"u":443,"v":232},{"u":420,"v":268},{"u":410,"v":315},{"u":400,"v":360},{"u":465,"v":310},{"u":440,"v":350},{"u":470,"v":395},{"u":450,"v":420},{"u":400,"v":598},{"u":420,"v":600},{"u":385,"v":600},{"u":405,"v":590},{"u":480,"v":220},{"u":470,"v":270},{"u":460,"v":495}]},"mark":{"type":"circle","size":330,"opacity":1,"color":{"gradient":"radial","x1":0.5,"y1":0.45,"x2":0.5,"y2":0.5,"r1":0,"r2":0.55,"stops":[{"offset":0,"color":"#C8E6FA"},{"offset":0.25,"color":"#2E8FD6"},{"offset":0.8,"color":"#1F78C0"},{"offset":1,"color":"#0F4A7A"}]}},"encoding":{"x":{"field":"u","type":"quantitative"},"y":{"field":"v","type":"quantitative"}}},
{"data":{"values":[{"u":310,"v":385},{"u":285,"v":450},{"u":270,"v":495},{"u":310,"v":528},{"u":332,"v":490},{"u":360,"v":480},{"u":400,"v":475},{"u":385,"v":505},{"u":425,"v":515},{"u":395,"v":430},{"u":420,"v":430},{"u":490,"v":235},{"u":515,"v":205},{"u":550,"v":160},{"u":600,"v":140},{"u":440,"v":380},{"u":470,"v":360},{"u":430,"v":290},{"u":510,"v":570},{"u":560,"v":570},{"u":780,"v":225},{"u":640,"v":140}]},"mark":{"type":"circle","size":330,"opacity":1,"color":{"gradient":"radial","x1":0.5,"y1":0.45,"x2":0.5,"y2":0.5,"r1":0,"r2":0.55,"stops":[{"offset":0,"color":"#DDF5C8"},{"offset":0.25,"color":"#58B02E"},{"offset":0.8,"color":"#45A024"},{"offset":1,"color":"#2A6614"}]}},"encoding":{"x":{"field":"u","type":"quantitative"},"y":{"field":"v","type":"quantitative"}}},
{"data":{"values":[{"u":640,"v":140},{"u":680,"v":135},{"u":720,"v":140},{"u":600,"v":150},{"u":660,"v":155},{"u":700,"v":160},{"u":740,"v":165},{"u":570,"v":170},{"u":620,"v":175},{"u":680,"v":185},{"u":720,"v":190},{"u":545,"v":195},{"u":590,"v":205},{"u":640,"v":205},{"u":700,"v":210},{"u":760,"v":205},{"u":530,"v":225},{"u":570,"v":235},{"u":615,"v":230},{"u":665,"v":225},{"u":730,"v":225},{"u":790,"v":240},{"u":510,"v":255},{"u":550,"v":265},{"u":590,"v":260},{"u":640,"v":265},{"u":690,"v":255},{"u":740,"v":265},{"u":780,"v":280},{"u":500,"v":295},{"u":540,"v":300},{"u":580,"v":300},{"u":625,"v":295},{"u":670,"v":300},{"u":715,"v":295},{"u":755,"v":300},{"u":480,"v":340},{"u":520,"v":335},{"u":560,"v":325},{"u":610,"v":335},{"u":650,"v":340},{"u":700,"v":330},{"u":745,"v":335},{"u":480,"v":380},{"u":520,"v":380},{"u":565,"v":375},{"u":605,"v":380},{"u":650,"v":370},{"u":690,"v":375},{"u":735,"v":385},{"u":765,"v":375},{"u":460,"v":420},{"u":500,"v":415},{"u":545,"v":410},{"u":590,"v":420},{"u":630,"v":425},{"u":680,"v":420},{"u":730,"v":405},{"u":760,"v":405},{"u":440,"v":460},{"u":480,"v":465},{"u":525,"v":455},{"u":570,"v":480},{"u":610,"v":465},{"u":655,"v":465},{"u":705,"v":465},{"u":455,"v":510},{"u":495,"v":500},{"u":535,"v":500},{"u":580,"v":510},{"u":620,"v":505},{"u":445,"v":560},{"u":480,"v":550},{"u":520,"v":540},{"u":560,"v":560},{"u":600,"v":545},{"u":760,"v":160},{"u":700,"v":150},{"u":625,"v":160},{"u":580,"v":165},{"u":745,"v":205},{"u":825,"v":222},{"u":800,"v":240},{"u":595,"v":195},{"u":655,"v":252},{"u":600,"v":262},{"u":730,"v":255},{"u":515,"v":285},{"u":600,"v":295},{"u":685,"v":290},{"u":760,"v":345},{"u":500,"v":345},{"u":540,"v":350},{"u":575,"v":352},{"u":690,"v":380},{"u":650,"v":405},{"u":505,"v":432},{"u":475,"v":445},{"u":570,"v":455},{"u":700,"v":467},{"u":490,"v":515},{"u":480,"v":530},{"u":560,"v":540},{"u":635,"v":548},{"u":440,"v":565},{"u":600,"v":570}]},"mark":{"type":"circle","size":380,"opacity":1,"color":{"gradient":"radial","x1":0.5,"y1":0.45,"x2":0.5,"y2":0.5,"r1":0,"r2":0.55,"stops":[{"offset":0,"color":"#D0FBFB"},{"offset":0.25,"color":"#2CD0D6"},{"offset":0.8,"color":"#1CB8BE"},{"offset":1,"color":"#0B6E74"}]}},"encoding":{"x":{"field":"u","type":"quantitative"},"y":{"field":"v","type":"quantitative"}}}
]}
]}
]},
{"width":1,"height":1,"data":{"values":[]},"mark":"point","encoding":{}},
{"spacing":0,"resolve":{"scale":{"color":"independent"},"legend":{"color":"independent"}},"hconcat":[
{"spacing":0,"resolve":{"scale":{"color":"independent"},"legend":{"color":"independent"}},"vconcat":[
{"width":1,"height":78,"data":{"values":[]},"mark":"point","encoding":{}},
{"width":561,"height":290,"title":{"text":"Soil moisture for Three probes (Top, Middle, Bottom) of Test Bed 1","fontSize":9.5,"offset":4},"data":{"values":[
{"m":0.87,"B":0.43,"M":0.37,"T":0.34},{"m":1.18,"B":0.41,"M":0.35,"T":0.33},{"m":1.54,"B":0.363,"M":0.32,"T":0.3},{"m":1.85,"B":0.24,"M":0.23,"T":0.21},{"m":2.05,"B":0.157,"M":0.15,"T":0.13},{"m":2.45,"B":0.115,"M":0.09,"T":0.07},{"m":2.72,"B":0.1,"M":0.06,"T":0.02},{"m":3.16,"B":0.19,"M":0.19,"T":0.17},{"m":3.43,"B":0.087,"M":0.06,"T":0.03},{"m":3.83,"B":0.094,"M":0.07,"T":0.05},{"m":4.22,"B":0.087,"M":0.06,"T":0.04},{"m":4.42,"B":0.16,"M":0.19,"T":0.218},{"m":4.81,"B":0.22,"M":0.18,"T":0.15},{"m":5.21,"B":0.165,"M":0.11,"T":0.12},{"m":5.8,"B":0.13,"M":0.09,"T":0.08},{"m":6.19,"B":0.1,"M":0.05,"T":0.045},{"m":6.71,"B":0.06,"M":0.03,"T":0.012},{"m":6.86,"B":0.29,"M":0.24,"T":0.22},{"m":7.18,"B":0.31,"M":0.27,"T":0.25},{"m":7.57,"B":0.3,"M":0.27,"T":0.26},{"m":7.97,"B":0.26,"M":0.24,"T":0.19},{"m":8.09,"B":0.15,"M":0.15,"T":0.145},{"m":8.36,"B":0.38,"M":0.32,"T":0.3},{"m":8.76,"B":0.39,"M":0.33,"T":0.31},{"m":9.15,"B":0.4,"M":0.34,"T":0.32},{"m":9.55,"B":0.37,"M":0.32,"T":0.31},{"m":9.94,"B":0.41,"M":0.35,"T":0.33},{"m":10.34,"B":0.43,"M":0.37,"T":0.34},{"m":10.73,"B":0.41,"M":0.35,"T":0.33},{"m":11.12,"B":0.39,"M":0.34,"T":0.33},{"m":11.52,"B":0.4,"M":0.33,"T":0.26},{"m":11.91,"B":0.44,"M":0.37,"T":0.35},{"m":12.31,"B":0.36,"M":0.33,"T":0.26},{"m":12.62,"B":0.4,"M":0.35,"T":0.32},{"m":13.1,"B":0.43,"M":0.37,"T":0.34},{"m":13.49,"B":0.4,"M":0.35,"T":0.31},{"m":13.89,"B":0.34,"M":0.31,"T":0.27},{"m":14.16,"B":0.25,"M":0.24,"T":0.21},{"m":14.48,"B":0.42,"M":0.36,"T":0.33},{"m":14.87,"B":0.44,"M":0.37,"T":0.34},{"m":15.27,"B":0.4,"M":0.35,"T":0.32},{"m":15.66,"B":0.38,"M":0.33,"T":0.29},{"m":15.98,"B":0.1,"M":0.08,"T":0.035},{"m":16.25,"B":0.43,"M":0.37,"T":0.33},{"m":16.65,"B":0.41,"M":0.36,"T":0.31},{"m":17.04,"B":0.42,"M":0.36,"T":0.34},{"m":17.44,"B":0.43,"M":0.37,"T":0.35},{"m":17.83,"B":0.3,"M":0.26,"T":0.23},{"m":18.11,"B":0.23,"M":0.2,"T":0.15},{"m":18.46,"B":0.25,"M":0.2,"T":0.07},{"m":18.7,"B":0.31,"M":0.29,"T":0.24},{"m":19.01,"B":0.41,"M":0.38,"T":0.36},{"m":19.33,"B":0.32,"M":0.27,"T":0.22},{"m":19.73,"B":0.18,"M":0.14,"T":0.12},{"m":20,"B":0.41,"M":0.36,"T":0.33},{"m":20.4,"B":0.42,"M":0.37,"T":0.34},{"m":20.79,"B":0.43,"M":0.38,"T":0.35},{"m":21.18,"B":0.44,"M":0.39,"T":0.36},{"m":21.58,"B":0.46,"M":0.4,"T":0.37},{"m":21.97,"B":0.49,"M":0.41,"T":0.38},{"m":22.37,"B":0.46,"M":0.41,"T":0.33},{"m":22.76,"B":0.48,"M":0.41,"T":0.39},{"m":23.16,"B":0.46,"M":0.4,"T":0.38},{"m":23.55,"B":0.47,"M":0.4,"T":0.39},{"m":23.87,"B":0.44,"M":0.38,"T":0.32},{"m":24.22,"B":0.49,"M":0.41,"T":0.39},{"m":24.54,"B":0.5,"M":0.42,"T":0.41},{"m":24.93,"B":0.45,"M":0.4,"T":0.38},{"m":25.33,"B":0.47,"M":0.39,"T":0.34},{"m":25.72,"B":0.48,"M":0.41,"T":0.4},{"m":26.12,"B":0.49,"M":0.41,"T":0.4},{"m":26.43,"B":0.4,"M":0.38,"T":0.36},{"m":26.75,"B":0.32,"M":0.31,"T":0.29},{"m":27.1,"B":0.22,"M":0.19,"T":0.17},{"m":27.38,"B":0.1,"M":0.08,"T":0.05},{"m":27.62,"B":0.36,"M":0.34,"T":0.31},{"m":28.01,"B":0.41,"M":0.35,"T":0.28},{"m":28.33,"B":0.27,"M":0.25,"T":0.13},{"m":28.6,"B":0.15,"M":0.14,"T":0.065},{"m":28.88,"B":0.27,"M":0.26,"T":0.26},{"m":29.27,"B":0.19,"M":0.15,"T":0.12},{"m":29.51,"B":0.05,"M":0.01,"T":-0.02},{"m":29.71,"B":0.01,"M":-0.03,"T":-0.055},{"m":29.86,"B":0.3,"M":0.25,"T":0.22},{"m":30.26,"B":0.39,"M":0.34,"T":0.31},{"m":30.65,"B":0.285,"M":0.27,"T":0.255},{"m":31.05,"B":0.29,"M":0.27,"T":0.26},{"m":31.44,"B":0.416,"M":0.35,"T":0.33},{"m":31.84,"B":0.33,"M":0.3,"T":0.27},{"m":32.15,"B":0.3,"M":0.28,"T":0.27},{"m":32.55,"B":0.37,"M":0.34,"T":0.33},{"m":33.02,"B":0.44,"M":0.38,"T":0.36},{"m":33.41,"B":0.46,"M":0.39,"T":0.37},{"m":33.81,"B":0.46,"M":0.39,"T":0.36},{"m":34.2,"B":0.42,"M":0.37,"T":0.355},{"m":34.6,"B":0.42,"M":0.37,"T":0.345},{"m":34.99,"B":0.46,"M":0.39,"T":0.37},{"m":35.39,"B":0.47,"M":0.4,"T":0.38},{"m":35.78,"B":0.48,"M":0.41,"T":0.39},{"m":36.18,"B":0.5,"M":0.42,"T":0.4},{"m":36.57,"B":0.51,"M":0.42,"T":0.4},{"m":36.89,"B":0.47,"M":0.4,"T":0.38},{"m":37.24,"B":0.42,"M":0.36,"T":0.33},{"m":37.56,"B":0.35,"M":0.32,"T":0.29},{"m":37.83,"B":0.31,"M":0.29,"T":0.28},{"m":38.23,"B":0.43,"M":0.37,"T":0.34},{"m":38.46,"B":0.38,"M":0.34,"T":0.31},{"m":38.86,"B":0.29,"M":0.27,"T":0.26},{"m":39.25,"B":0.43,"M":0.37,"T":0.34},{"m":39.65,"B":0.34,"M":0.3,"T":0.26},{"m":40,"B":0.44,"M":0.36,"T":0.33},{"m":40.36,"B":0.4,"M":0.34,"T":0.31},{"m":40.71,"B":0.3,"M":0.29,"T":0.27},{"m":41.11,"B":0.22,"M":0.21,"T":0.2},{"m":41.42,"B":0.13,"M":0.1,"T":0.09},{"m":41.74,"B":0.09,"M":0.26,"T":0.02},{"m":42.02,"B":0.05,"M":0.05,"T":0.05},{"m":42.17,"B":0.12,"M":0.06,"T":0.02},{"m":42.41,"B":0.11,"M":0.03,"T":0.015},{"m":42.53,"B":0.38,"M":0.3,"T":0.28},{"m":42.88,"B":0.33,"M":0.28,"T":0.26},{"m":43.28,"B":0.34,"M":0.27,"T":0.25},{"m":43.67,"B":0.27,"M":0.24,"T":0.2},{"m":43.99,"B":0.18,"M":0.13,"T":0.13},{"m":44.34,"B":0.12,"M":0.11,"T":0.09},{"m":44.58,"B":0.4,"M":0.35,"T":0.3},{"m":44.97,"B":0.42,"M":0.34,"T":0.3},{"m":45.37,"B":0.41,"M":0.34,"T":0.31},{"m":45.76,"B":0.44,"M":0.35,"T":0.32},{"m":46.16,"B":0.41,"M":0.36,"T":0.34},{"m":46.55,"B":0.45,"M":0.37,"T":0.34},{"m":46.95,"B":0.46,"M":0.38,"T":0.35},{"m":47.34,"B":0.4,"M":0.4,"T":0.33},{"m":47.74,"B":0.48,"M":0.38,"T":0.36},{"m":48.13,"B":0.49,"M":0.41,"T":0.36},{"m":48.52,"B":0.42,"M":0.37,"T":0.34},{"m":48.92,"B":0.46,"M":0.38,"T":0.35},{"m":49.31,"B":0.39,"M":0.34,"T":0.3},{"m":49.71,"B":0.43,"M":0.37,"T":0.3},{"m":50.1,"B":0.43,"M":0.36,"T":0.31},{"m":50.46,"B":0.33,"M":0.29,"T":0.27},{"m":50.77,"B":0.24,"M":0.22,"T":0.2},{"m":51.17,"B":0.12,"M":0.11,"T":0.09},{"m":51.48,"B":0.39,"M":0.33,"T":0.31},{"m":51.88,"B":0.28,"M":0.25,"T":0.22},{"m":52.15,"B":0.14,"M":0.13,"T":0.13},{"m":52.43,"B":0.36,"M":0.3,"T":0.28},{"m":52.75,"B":0.34,"M":0.24,"T":0.08},{"m":53.02,"B":0.27,"M":0.19,"T":0.16},{"m":53.3,"B":0.1,"M":0.06,"T":0.06},{"m":53.61,"B":0.26,"M":0.2,"T":0.13},{"m":54.01,"B":0.07,"M":0.05,"T":0.05},{"m":54.24,"B":0.33,"M":0.28,"T":0.22},{"m":54.64,"B":0.12,"M":0.11,"T":0.115},{"m":54.95,"B":0.33,"M":0.29,"T":0.27},{"m":55.31,"B":0.39,"M":0.36,"T":0.32},{"m":55.7,"B":0.32,"M":0.28,"T":0.26},{"m":56.1,"B":0.33,"M":0.29,"T":0.26},{"m":56.41,"B":0.2,"M":0.19,"T":0.19},{"m":56.69,"B":0.29,"M":0.28,"T":0.27},{"m":57.08,"B":0.34,"M":0.32,"T":0.31},{"m":57.48,"B":0.42,"M":0.36,"T":0.34},{"m":57.87,"B":0.47,"M":0.39,"T":0.35},{"m":58.27,"B":0.45,"M":0.39,"T":0.34},{"m":58.66,"B":0.43,"M":0.37,"T":0.35},{"m":59.06,"B":0.47,"M":0.41,"T":0.37},{"m":59.45,"B":0.45,"M":0.39,"T":0.38},{"m":59.85,"B":0.44,"M":0.41,"T":0.36},{"m":60.24,"B":0.46,"M":0.38,"T":0.35},{"m":60.64,"B":0.4,"M":0.4,"T":0.37},{"m":61.03,"B":0.43,"M":0.37,"T":0.34},{"m":61.35,"B":0.4,"M":0.36,"T":0.33}
]},"transform":[{"fold":["B","M","T"],"as":["probe","vwc"]}],"mark":{"type":"line","strokeWidth":1.8},"encoding":{"x":{"field":"m","type":"quantitative","title":"Date","scale":{"domain":[-2.117,63.86],"nice":false,"zero":false},"axis":{"grid":false,"domain":true,"domainColor":"#D9D9D9","values":[0,3,6,9,12,15,18,21,24,27,30,33,36,39,42,45,48,51,54,57,60,63],"labelExpr":"['Feb','May','Aug','Nov'][(datum.value/3)%4]+'  '+(2011+floor((datum.value+1)/12))","labelAngle":-30,"labelAlign":"right","labelBaseline":"top","labelFontSize":6.5,"labelColor":"#777777","tickColor":"#BBBBBB","titleFontSize":8,"titlePadding":2}},"y":{"field":"vwc","type":"quantitative","title":"Soil moisture (VWC)","scale":{"domain":[-0.083,0.534],"nice":false,"zero":false},"axis":{"grid":false,"domain":true,"domainColor":"#D9D9D9","values":[0,0.1,0.2,0.3,0.4,0.5],"format":".1f","labelFontSize":6.5,"labelColor":"#777777","tickColor":"#BBBBBB","titleFontSize":8,"titlePadding":3}},"color":{"field":"probe","type":"nominal","scale":{"domain":["B","M","T"],"range":["#0868AC","#231F66","#00A050"]},"legend":{"title":"TB1","orient":"none","legendX":574,"legendY":120,"symbolType":"stroke","symbolSize":100,"symbolStrokeWidth":1.5,"labelExpr":"'TB1_'+datum.label","labelFontSize":6.5,"titleFontSize":8.5}}}}
]},
{"spacing":0,"resolve":{"scale":{"color":"independent"},"legend":{"color":"independent"}},"vconcat":[
{"bounds":"flush","spacing":0,"resolve":{"scale":{"color":"independent"},"legend":{"color":"independent"}},"hconcat":[
{"width":33,"height":1,"data":{"values":[]},"mark":"point","encoding":{}},
{"width":255,"height":181,"resolve":{"scale":{"x":"independent","y":"independent"}},"layer":[
{"data":{"values":[{"u":12,"u2":778,"v":27,"v2":570,"part":"page"},{"u":12,"u2":778,"v":27,"v2":35,"part":"bar"},{"u":18,"u2":772,"v":43,"v2":73,"part":"navy"},{"u":24,"u2":78,"v":49,"v2":68,"part":"paper"},{"u":732,"u2":767,"v":49,"v2":68,"part":"paper"},{"u":18,"u2":772,"v":535,"v2":556,"part":"bar"},{"u":18,"u2":772,"v":222,"v2":223,"part":"bar"},{"u":18,"u2":772,"v":290,"v2":291,"part":"bar"},{"u":18,"u2":772,"v":360,"v2":361,"part":"bar"},{"u":18,"u2":772,"v":430,"v2":431,"part":"bar"},{"u":18,"u2":772,"v":497,"v2":498,"part":"bar"},{"u":205,"u2":206,"v":180,"v2":505,"part":"bar"},{"u":412,"u2":413,"v":180,"v2":505,"part":"bar"},{"u":618,"u2":619,"v":180,"v2":505,"part":"bar"}]},"mark":{"type":"rect"},"encoding":{"x":{"field":"u","type":"quantitative","axis":null,"scale":{"domain":[12,778],"nice":false,"zero":false}},"x2":{"field":"u2"},"y":{"field":"v","type":"quantitative","axis":null,"scale":{"domain":[570,27],"nice":false,"zero":false}},"y2":{"field":"v2"},"color":{"field":"part","type":"nominal","legend":null,"scale":{"domain":["page","bar","navy","paper","light","dark","ink","muted","icon","play"],"range":["#FFFFFF","#EBEBEB","#12294B","#FFFFFF","#A9DCF3","#124E96","#333333","#AAAAAA","#4A6FA0","#7FD69A"]}}}},
{"data":{"values":[{"u":20,"u2":775,"v":78,"v2":124},{"u":20,"u2":78,"v":78,"v2":175},{"u":80,"u2":155,"v":128,"v2":175},{"u":158,"u2":233,"v":128,"v2":175},{"u":236,"u2":310,"v":128,"v2":175},{"u":313,"u2":388,"v":128,"v2":175},{"u":391,"u2":465,"v":128,"v2":175},{"u":468,"u2":543,"v":128,"v2":175},{"u":546,"u2":620,"v":128,"v2":175},{"u":623,"u2":698,"v":128,"v2":175},{"u":700,"u2":775,"v":128,"v2":175},{"u":18,"u2":205,"v":535,"v2":556},{"u":205,"u2":395,"v":535,"v2":556},{"u":395,"u2":587,"v":535,"v2":556},{"u":587,"u2":772,"v":535,"v2":556}]},"mark":{"type":"rect","fillOpacity":0,"stroke":"#BBBBBB","strokeWidth":0.5,"strokeDash":[1.5,1]},"encoding":{"x":{"field":"u","type":"quantitative","axis":null,"scale":{"domain":[12,778],"nice":false,"zero":false}},"x2":{"field":"u2"},"y":{"field":"v","type":"quantitative","axis":null,"scale":{"domain":[570,27],"nice":false,"zero":false}},"y2":{"field":"v2"}}},
{"data":{"values":[{"u":85,"u2":140,"v":80,"v2":94,"part":"light"},{"u":147,"u2":198,"v":80,"v2":94,"part":"dark"},{"u":206,"u2":227,"v":80,"v2":94,"part":"dark"},{"u":235,"u2":272,"v":80,"v2":94,"part":"dark"},{"u":280,"u2":324,"v":80,"v2":94,"part":"dark"},{"u":330,"u2":388,"v":80,"v2":94,"part":"dark"},{"u":88,"u2":143,"v":131,"v2":145,"part":"light"},{"u":165,"u2":225,"v":131,"v2":145,"part":"dark"},{"u":31,"u2":65,"v":103,"v2":137,"part":"icon"},{"u":722,"u2":734,"v":191,"v2":203,"part":"play"}]},"mark":{"type":"rect","cornerRadius":2.5},"encoding":{"x":{"field":"u","type":"quantitative","axis":null,"scale":{"domain":[12,778],"nice":false,"zero":false}},"x2":{"field":"u2"},"y":{"field":"v","type":"quantitative","axis":null,"scale":{"domain":[570,27],"nice":false,"zero":false}},"y2":{"field":"v2"},"color":{"field":"part","type":"nominal","legend":null}}},
{"data":{"values":[{"t":2011.13,"lo":0.3,"mid":2.7,"hi":4.5},{"t":2011.18,"lo":0.2,"mid":3.4,"hi":5.5},{"t":2011.23,"lo":0.4,"mid":2.4,"hi":4},{"t":2011.28,"lo":0.2,"mid":2,"hi":3.5},{"t":2011.33,"lo":0.3,"mid":2.8,"hi":4.5},{"t":2011.38,"lo":0.2,"mid":3.6,"hi":6.6},{"t":2011.43,"lo":0.4,"mid":2.6,"hi":4.5},{"t":2011.48,"lo":0.3,"mid":1.8,"hi":3},{"t":2011.53,"lo":0.2,"mid":2.5,"hi":4},{"t":2011.58,"lo":0.1,"mid":2.3,"hi":4},{"t":2011.63,"lo":0.3,"mid":4,"hi":6.3},{"t":2011.68,"lo":0.4,"mid":3.6,"hi":5.5},{"t":2011.73,"lo":0.2,"mid":2,"hi":3.5},{"t":2011.78,"lo":0.3,"mid":2.6,"hi":4.5},{"t":2011.83,"lo":0.5,"mid":3.5,"hi":7.8},{"t":2011.88,"lo":0.4,"mid":3,"hi":5},{"t":2011.93,"lo":0.6,"mid":2.4,"hi":3.5},{"t":2011.98,"lo":0.4,"mid":2.5,"hi":4},{"t":2012.03,"lo":0.3,"mid":3,"hi":5},{"t":2012.08,"lo":0.2,"mid":2.2,"hi":3.5},{"t":2012.13,"lo":0.1,"mid":2.4,"hi":4},{"t":2012.18,"lo":0.3,"mid":2.8,"hi":4.5},{"t":2012.23,"lo":0.2,"mid":2,"hi":3.5},{"t":2012.28,"lo":0.4,"mid":3.2,"hi":5.3},{"t":2012.33,"lo":0.2,"mid":2.6,"hi":4},{"t":2012.38,"lo":0.3,"mid":2.2,"hi":3.5},{"t":2012.43,"lo":0.1,"mid":3,"hi":4.5},{"t":2012.48,"lo":0.2,"mid":2.3,"hi":3.5},{"t":2012.53,"lo":0.3,"mid":3.4,"hi":5.3},{"t":2012.58,"lo":0.5,"mid":1.9,"hi":3},{"t":2012.63,"lo":0.3,"mid":2.5,"hi":4},{"t":2012.68,"lo":0.2,"mid":2.6,"hi":4},{"t":2012.73,"lo":0.3,"mid":3.2,"hi":5},{"t":2012.78,"lo":0.4,"mid":4.6,"hi":8},{"t":2012.83,"lo":0.2,"mid":3.4,"hi":5.5},{"t":2012.88,"lo":0.3,"mid":2.6,"hi":4},{"t":2012.93,"lo":0.2,"mid":2.2,"hi":3.5},{"t":2012.98,"lo":0.3,"mid":3.4,"hi":5.4},{"t":2013.03,"lo":0.5,"mid":2.2,"hi":3.5},{"t":2013.08,"lo":0.2,"mid":3,"hi":4.5},{"t":2013.13,"lo":0.3,"mid":2.2,"hi":3.5},{"t":2013.18,"lo":0.4,"mid":2.5,"hi":4},{"t":2013.23,"lo":0.2,"mid":3.4,"hi":5.5},{"t":2013.28,"lo":0.3,"mid":2.2,"hi":3.5},{"t":2013.33,"lo":0.6,"mid":2.6,"hi":4},{"t":2013.38,"lo":0.5,"mid":3.2,"hi":5},{"t":2013.43,"lo":0.6,"mid":4.2,"hi":7},{"t":2013.48,"lo":0.5,"mid":4,"hi":6},{"t":2013.53,"lo":0.7,"mid":4.2,"hi":6.3},{"t":2013.58,"lo":0.5,"mid":2.6,"hi":4},{"t":2013.63,"lo":0.4,"mid":3.2,"hi":5},{"t":2013.68,"lo":0.4,"mid":2.2,"hi":3.5},{"t":2013.73,"lo":0.3,"mid":2.8,"hi":4.5},{"t":2013.78,"lo":0.2,"mid":2.5,"hi":4},{"t":2013.83,"lo":0.5,"mid":1.8,"hi":3},{"t":2013.88,"lo":0.4,"mid":3.6,"hi":6},{"t":2013.93,"lo":0.8,"mid":2.4,"hi":3.5},{"t":2013.98,"lo":1,"mid":2.4,"hi":3.5},{"t":2014.03,"lo":0.8,"mid":2,"hi":3},{"t":2014.08,"lo":0.3,"mid":2.8,"hi":4.5},{"t":2014.13,"lo":0.2,"mid":2.2,"hi":3.5},{"t":2014.18,"lo":0.1,"mid":2,"hi":3},{"t":2014.23,"lo":0.3,"mid":2.6,"hi":4},{"t":2014.28,"lo":0.2,"mid":3,"hi":4.5},{"t":2014.33,"lo":0.4,"mid":4,"hi":7},{"t":2014.38,"lo":0.3,"mid":2.6,"hi":4},{"t":2014.43,"lo":0.2,"mid":2.3,"hi":3.5},{"t":2014.48,"lo":0.3,"mid":3.1,"hi":5},{"t":2014.53,"lo":0.5,"mid":4.4,"hi":8.5},{"t":2014.58,"lo":0.3,"mid":3.2,"hi":5},{"t":2014.63,"lo":0.2,"mid":2.6,"hi":4},{"t":2014.68,"lo":0.3,"mid":3.2,"hi":5},{"t":2014.73,"lo":0.4,"mid":4,"hi":7.8},{"t":2014.78,"lo":0.3,"mid":3,"hi":5},{"t":2014.83,"lo":0.2,"mid":2.8,"hi":4.5},{"t":2014.88,"lo":0.3,"mid":2.6,"hi":4},{"t":2014.93,"lo":0.2,"mid":3.2,"hi":5},{"t":2014.98,"lo":0.3,"mid":2.2,"hi":3.5},{"t":2015.03,"lo":0.1,"mid":2.8,"hi":4.5},{"t":2015.08,"lo":0.3,"mid":3.4,"hi":5.5},{"t":2015.13,"lo":0.2,"mid":2.6,"hi":4},{"t":2015.18,"lo":0.3,"mid":2.2,"hi":3.5},{"t":2015.23,"lo":0.4,"mid":2.8,"hi":4.5},{"t":2015.28,"lo":0.2,"mid":3.2,"hi":5},{"t":2015.33,"lo":0.3,"mid":2.2,"hi":3.5},{"t":2015.38,"lo":0.2,"mid":3,"hi":5},{"t":2015.43,"lo":0.3,"mid":2.2,"hi":3.5},{"t":2015.48,"lo":0.2,"mid":2.8,"hi":4.5},{"t":2015.53,"lo":0.3,"mid":2.5,"hi":4},{"t":2015.58,"lo":0.4,"mid":2.2,"hi":3.5},{"t":2015.63,"lo":0.2,"mid":2.5,"hi":4},{"t":2015.68,"lo":0.3,"mid":3.1,"hi":5},{"t":2015.73,"lo":0.2,"mid":3.2,"hi":5},{"t":2015.78,"lo":0.3,"mid":2.2,"hi":3.5},{"t":2015.83,"lo":0.2,"mid":2.8,"hi":4.5},{"t":2015.88,"lo":0.3,"mid":2.5,"hi":4},{"t":2015.93,"lo":0.1,"mid":2.2,"hi":3.5},{"t":2015.98,"lo":0.2,"mid":3.2,"hi":5},{"t":2016.03,"lo":0.1,"mid":3.4,"hi":5.4},{"t":2016.08,"lo":0.1,"mid":2.6,"hi":4},{"t":2016.13,"lo":0.1,"mid":2,"hi":3},{"t":2016.18,"lo":0.1,"mid":1.6,"hi":2.5}]},"encoding":{"x":{"field":"t","type":"quantitative","axis":null,"scale":{"domain":[2010.69,2016.47],"nice":false,"zero":false}}},"layer":[{"mark":{"type":"rule","color":"#F4511E","opacity":0.45,"strokeWidth":2.4},"encoding":{"y":{"field":"lo","type":"quantitative","axis":null,"scale":{"domain":[-2.12,13.65],"nice":false,"zero":false}},"y2":{"field":"hi"}}},{"mark":{"type":"rule","color":"#F4511E","strokeWidth":2.4},"encoding":{"y":{"field":"lo","type":"quantitative","axis":null,"scale":{"domain":[-2.12,13.65],"nice":false,"zero":false}},"y2":{"field":"mid"}}}]},
{"data":{"values":[{"u":140,"v":31,"label":"Click a field, pick a plot type, then drag it onto a slot to build the chart","part":"ink"},{"u":50,"v":58,"label":"Exit","part":"ink"},{"u":750,"v":58,"label":"Close","part":"ink"},{"u":395,"v":58,"label":"ggplot2 builder","part":"paper"},{"u":48,"v":146,"label":"Line","part":"ink"},{"u":112,"v":87,"label":"TIMESTAMP","part":"paper"},{"u":172,"v":87,"label":"AirTC_Avg","part":"paper"},{"u":216,"v":87,"label":"RH","part":"paper"},{"u":253,"v":87,"label":"Slr_kW","part":"paper"},{"u":302,"v":87,"label":"BP_mbar","part":"paper"},{"u":359,"v":87,"label":"WS_ms_Avg","part":"paper"},{"u":742,"v":87,"label":"Variables","part":"muted"},{"u":115,"v":138,"label":"TIMESTAMP","part":"paper"},{"u":195,"v":138,"label":"WS_ms_Avg","part":"paper"},{"u":297,"v":138,"label":"Fill","part":"muted"},{"u":368,"v":138,"label":"Color","part":"muted"},{"u":448,"v":138,"label":"Size","part":"muted"},{"u":525,"v":138,"label":"Group","part":"muted"},{"u":600,"v":138,"label":"Facet","part":"muted"},{"u":660,"v":138,"label":"FacetRow","part":"muted"},{"u":738,"v":138,"label":"FacetCol","part":"muted"},{"u":748,"v":197,"label":"Play","part":"ink"},{"u":205,"v":517,"label":"Jan 2012","part":"ink"},{"u":412,"v":517,"label":"Jul 2013","part":"ink"},{"u":618,"v":517,"label":"Jan 2015","part":"ink"},{"u":402,"v":525,"label":"TIMESTAMP","part":"ink"},{"u":32,"v":222,"label":"8","part":"ink"},{"u":32,"v":290,"label":"6","part":"ink"},{"u":32,"v":360,"label":"4","part":"ink"},{"u":32,"v":430,"label":"2","part":"ink"},{"u":32,"v":497,"label":"0","part":"ink"},{"u":110,"v":546,"label":"Labels & Title ▲","part":"ink"},{"u":300,"v":546,"label":"Plot options ▲","part":"ink"},{"u":490,"v":546,"label":"Data ▲","part":"ink"},{"u":680,"v":546,"label":"Export & code ▲","part":"ink"}]},"mark":{"type":"text","fontSize":3.6},"encoding":{"x":{"field":"u","type":"quantitative","axis":null,"scale":{"domain":[12,778],"nice":false,"zero":false}},"y":{"field":"v","type":"quantitative","axis":null,"scale":{"domain":[570,27],"nice":false,"zero":false}},"text":{"field":"label"},"color":{"field":"part","type":"nominal","legend":null}}},
{"data":{"values":[{"u":22,"v":350,"label":"WS_ms_Avg"}]},"mark":{"type":"text","fontSize":3.6,"angle":270,"color":"#333333"},"encoding":{"x":{"field":"u","type":"quantitative","axis":null,"scale":{"domain":[12,778],"nice":false,"zero":false}},"y":{"field":"v","type":"quantitative","axis":null,"scale":{"domain":[570,27],"nice":false,"zero":false}},"text":{"field":"label"}}}
]}]},
{"width":1,"height":51,"data":{"values":[]},"mark":"point","encoding":{}},
{"width":310,"height":164,"view":{"stroke":"#777777","strokeWidth":1},"data":{"name":"temp"},"resolve":{"axis":{"x":"independent","y":"independent"}},"layer":[
{"mark":{"type":"rule","strokeWidth":1.3,"color":"#0080FF","opacity":1},"encoding":{"x":{"field":"t","type":"quantitative","title":"Date","scale":{"domain":[2010.816,2016.52],"nice":false,"zero":false},"axis":{"grid":false,"values":[2011,2012,2013,2014,2015,2016],"format":"d","tickSize":3,"labelFontSize":5,"labelColor":"#333333","titleFontSize":6.5,"labelPadding":3,"titlePadding":3}},"y":{"field":"lo","type":"quantitative","title":"Average air temperature","scale":{"domain":[-7.67,35.2],"nice":false,"zero":false},"axis":{"grid":false,"values":[0,10,20,30],"tickSize":3,"labelFontSize":5,"labelColor":"#333333","titleFontSize":6.5,"labelPadding":3,"titlePadding":3}},"y2":{"field":"hi"}}},
{"mark":{"type":"point","filled":false,"size":6,"opacity":0.45,"color":"#0080FF"},"encoding":{"x":{"field":"t","type":"quantitative","scale":{"domain":[2010.816,2016.52],"nice":false,"zero":false},"axis":{"orient":"top","grid":false,"labels":false,"title":null,"values":[2011,2012,2013,2014,2015,2016],"tickSize":3}},"y":{"field":"hi","type":"quantitative","scale":{"domain":[-7.67,35.2],"nice":false,"zero":false},"axis":{"orient":"right","grid":false,"labels":false,"title":null,"values":[0,10,20,30],"tickSize":3}}}},
{"mark":{"type":"point","filled":false,"size":6,"opacity":0.45,"color":"#0080FF"},"encoding":{"x":{"field":"t","type":"quantitative","axis":null,"scale":{"domain":[2010.816,2016.52],"nice":false,"zero":false}},"y":{"field":"lo","type":"quantitative","axis":null,"scale":{"domain":[-7.67,35.2],"nice":false,"zero":false}}}}
]}
]}
]}
]}
]}
